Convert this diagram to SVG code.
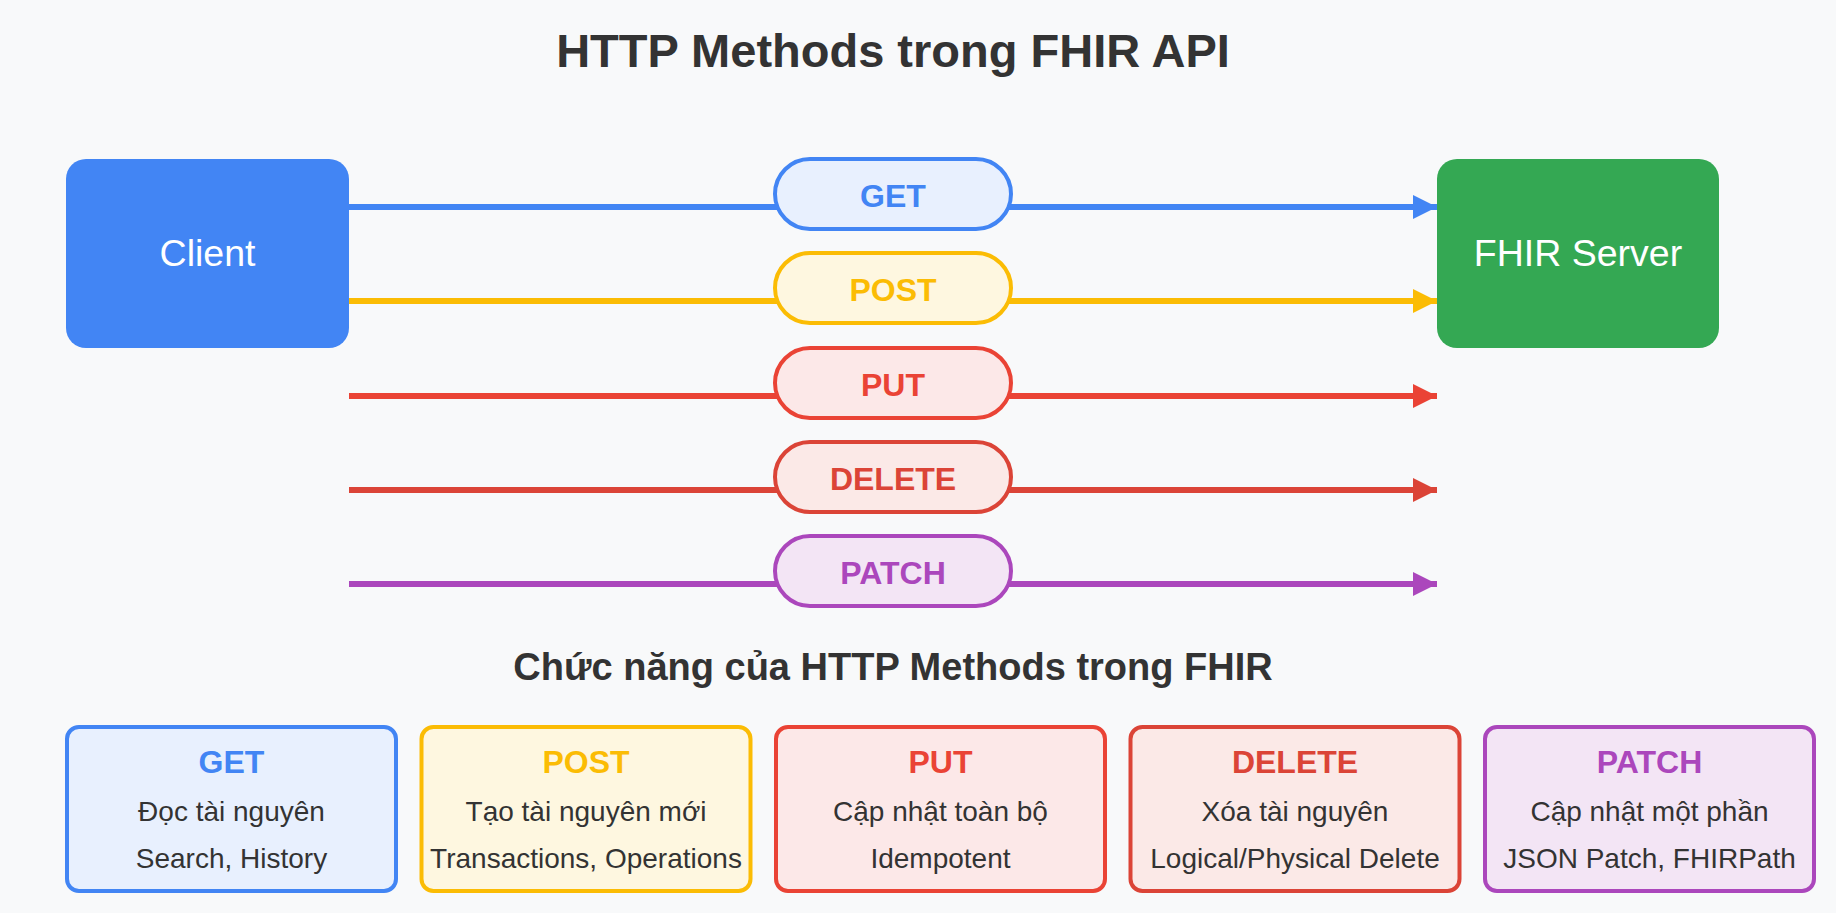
<svg xmlns="http://www.w3.org/2000/svg" width="1836" height="913" viewBox="0 0 1836 913">
<style>
text{font-family:"Liberation Sans",Arial,sans-serif;text-anchor:middle}
.title{font-size:47px;font-weight:bold;fill:#333333}
.sub{font-size:38px;font-weight:bold;fill:#333333}
.node{font-size:37.5px;fill:#ffffff}
.pill{font-size:32px;font-weight:bold}
.ct{font-size:32px;font-weight:bold}
.cb{font-size:28px;fill:#333333}
.ln{stroke-width:6;fill:none}
</style>
<defs>
<marker id="aB" viewBox="0 0 24 24" refX="24" refY="12" markerWidth="24" markerHeight="24" markerUnits="userSpaceOnUse" orient="auto"><path d="M0,0 L24,12 L0,24 z" fill="#4285F4"/></marker>
<marker id="aY" viewBox="0 0 24 24" refX="24" refY="12" markerWidth="24" markerHeight="24" markerUnits="userSpaceOnUse" orient="auto"><path d="M0,0 L24,12 L0,24 z" fill="#FBBC04"/></marker>
<marker id="aR" viewBox="0 0 24 24" refX="24" refY="12" markerWidth="24" markerHeight="24" markerUnits="userSpaceOnUse" orient="auto"><path d="M0,0 L24,12 L0,24 z" fill="#EA4335"/></marker>
<marker id="aD" viewBox="0 0 24 24" refX="24" refY="12" markerWidth="24" markerHeight="24" markerUnits="userSpaceOnUse" orient="auto"><path d="M0,0 L24,12 L0,24 z" fill="#DB4437"/></marker>
<marker id="aP" viewBox="0 0 24 24" refX="24" refY="12" markerWidth="24" markerHeight="24" markerUnits="userSpaceOnUse" orient="auto"><path d="M0,0 L24,12 L0,24 z" fill="#AB47BC"/></marker>
</defs>
<rect x="0" y="0" width="1836" height="913" fill="#F8F9FA"/>
<text class="title" x="893" y="67">HTTP Methods trong FHIR API</text>

<g id="connectors">
<line class="ln" x1="349" y1="207" x2="1437" y2="207" stroke="#4285F4" marker-end="url(#aB)"/>
<line class="ln" x1="349" y1="301" x2="1437" y2="301" stroke="#FBBC04" marker-end="url(#aY)"/>
<line class="ln" x1="349" y1="396" x2="1437" y2="396" stroke="#EA4335" marker-end="url(#aR)"/>
<line class="ln" x1="349" y1="490" x2="1437" y2="490" stroke="#DB4437" marker-end="url(#aD)"/>
<line class="ln" x1="349" y1="584" x2="1437" y2="584" stroke="#AB47BC" marker-end="url(#aP)"/>
<g id="labels">
<rect x="775" y="159" width="236" height="70" rx="35" fill="#E8F0FE" stroke="#4285F4" stroke-width="4"/>
<text class="pill" x="893" y="207" fill="#4285F4">GET</text>
<rect x="775" y="253" width="236" height="70" rx="35" fill="#FEF7E0" stroke="#FBBC04" stroke-width="4"/>
<text class="pill" x="893" y="301" fill="#FBBC04">POST</text>
<rect x="775" y="348" width="236" height="70" rx="35" fill="#FCE8E8" stroke="#EA4335" stroke-width="4"/>
<text class="pill" x="893" y="396" fill="#EA4335">PUT</text>
<rect x="775" y="442" width="236" height="70" rx="35" fill="#FBE9E7" stroke="#DB4437" stroke-width="4"/>
<text class="pill" x="893" y="490" fill="#DB4437">DELETE</text>
<rect x="775" y="536" width="236" height="70" rx="35" fill="#F3E5F5" stroke="#AB47BC" stroke-width="4"/>
<text class="pill" x="893" y="584" fill="#AB47BC">PATCH</text>
</g>
</g>

<g id="client">
<rect x="66" y="159" width="283" height="189" rx="20" fill="#4285F4"/>
<text class="node" x="207.5" y="266">Client</text>
</g>
<g id="server">
<rect x="1437" y="159" width="282" height="189" rx="20" fill="#34A853"/>
<text class="node" x="1578" y="266">FHIR Server</text>
</g>

<text class="sub" x="893" y="680">Chức năng của HTTP Methods trong FHIR</text>

<g id="card-get">
<rect x="67" y="727" width="329" height="164" rx="12" fill="#E8F0FE" stroke="#4285F4" stroke-width="4"/>
<text class="ct" x="231.5" y="773" fill="#4285F4">GET</text>
<text class="cb" x="231.5" y="821">Đọc tài nguyên</text>
<text class="cb" x="231.5" y="868">Search, History</text>
</g>
<g id="card-post">
<rect x="421.5" y="727" width="329" height="164" rx="12" fill="#FEF7E0" stroke="#FBBC04" stroke-width="4"/>
<text class="ct" x="586" y="773" fill="#FBBC04">POST</text>
<text class="cb" x="586" y="821">Tạo tài nguyên mới</text>
<text class="cb" x="586" y="868">Transactions, Operations</text>
</g>
<g id="card-put">
<rect x="776" y="727" width="329" height="164" rx="12" fill="#FCE8E8" stroke="#EA4335" stroke-width="4"/>
<text class="ct" x="940.5" y="773" fill="#EA4335">PUT</text>
<text class="cb" x="940.5" y="821">Cập nhật toàn bộ</text>
<text class="cb" x="940.5" y="868">Idempotent</text>
</g>
<g id="card-delete">
<rect x="1130.5" y="727" width="329" height="164" rx="12" fill="#FBE9E7" stroke="#DB4437" stroke-width="4"/>
<text class="ct" x="1295" y="773" fill="#DB4437">DELETE</text>
<text class="cb" x="1295" y="821">Xóa tài nguyên</text>
<text class="cb" x="1295" y="868">Logical/Physical Delete</text>
</g>
<g id="card-patch">
<rect x="1485" y="727" width="329" height="164" rx="12" fill="#F3E5F5" stroke="#AB47BC" stroke-width="4"/>
<text class="ct" x="1649.5" y="773" fill="#AB47BC">PATCH</text>
<text class="cb" x="1649.5" y="821">Cập nhật một phần</text>
<text class="cb" x="1649.5" y="868">JSON Patch, FHIRPath</text>
</g>
</svg>
